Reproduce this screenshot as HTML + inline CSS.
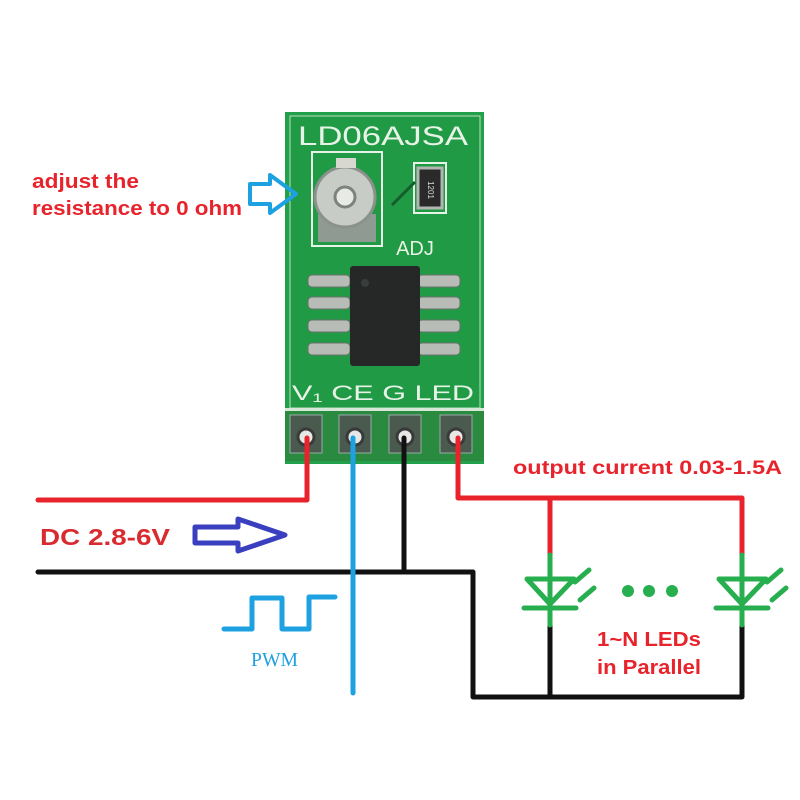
<!DOCTYPE html>
<html><head><meta charset="utf-8"><style>
html,body{margin:0;padding:0;background:#fff;}
svg{display:block;}
</style></head><body>
<svg width="800" height="800" viewBox="0 0 800 800" xmlns="http://www.w3.org/2000/svg">
<rect width="800" height="800" fill="#fff"/>
<!-- board -->
<rect x="285" y="112" width="199" height="352" fill="#23a04a"/>
<rect x="290" y="116" width="190" height="292" fill="#209a44" stroke="#cfe8d0" stroke-width="1" opacity="0.9"/>
<text x="383" y="145" font-family="Liberation Sans, sans-serif" font-size="27" fill="#e8f3e8" text-anchor="middle" textLength="170" lengthAdjust="spacingAndGlyphs">LD06AJSA</text>
<!-- pot -->
<rect x="312" y="152" width="70" height="94" fill="none" stroke="#e8f3e8" stroke-width="2"/>
<rect x="318" y="214" width="58" height="28" fill="#8e9a92"/>
<circle cx="345" cy="197" r="30" fill="#c8ccc6" stroke="#8b918b" stroke-width="3"/>
<circle cx="345" cy="197" r="10" fill="#e8eae6" stroke="#7d837c" stroke-width="3"/>
<rect x="336" y="158" width="20" height="10" fill="#d8d8d0"/>
<!-- resistor -->
<rect x="414" y="163" width="32" height="50" fill="none" stroke="#e8f3e8" stroke-width="2"/>
<rect x="418" y="168" width="24" height="40" fill="#2a2a2a" stroke="#b0b6b0" stroke-width="3"/>
<text x="430" y="192" font-family="Liberation Sans, sans-serif" font-size="8" fill="#ddd" text-anchor="middle" transform="rotate(90 430 190)">1201</text>
<path d="M392 205 L405 192 L415 182" stroke="#155c2a" stroke-width="3" fill="none"/>
<text x="415" y="255" font-family="Liberation Sans, sans-serif" font-size="20" fill="#e8f3e8" text-anchor="middle">ADJ</text>
<!-- IC -->
<g fill="#b8bcb6" stroke="#6c706a" stroke-width="1">
<rect x="308" y="275" width="42" height="12" rx="4"/><rect x="308" y="297" width="42" height="12" rx="4"/>
<rect x="308" y="320" width="42" height="12" rx="4"/><rect x="308" y="343" width="42" height="12" rx="4"/>
<rect x="418" y="275" width="42" height="12" rx="4"/><rect x="418" y="297" width="42" height="12" rx="4"/>
<rect x="418" y="320" width="42" height="12" rx="4"/><rect x="418" y="343" width="42" height="12" rx="4"/>
</g>
<rect x="350" y="266" width="70" height="100" fill="#252826" rx="3"/>
<circle cx="365" cy="283" r="4" fill="#3a3e3b"/>
<!-- labels -->
<text x="383" y="400" font-family="Liberation Sans, sans-serif" font-size="21" fill="#e8f3e8" text-anchor="middle" textLength="182" lengthAdjust="spacingAndGlyphs">V₁ CE  G LED</text>
<!-- header -->
<rect x="285" y="408" width="199" height="3" fill="#d8e8d8"/>
<rect x="285" y="411" width="199" height="50" fill="#2a8a40"/>
<g fill="#4a5a4e" stroke="#9aa" stroke-width="1">
<rect x="290" y="415" width="32" height="38"/><rect x="339" y="415" width="32" height="38"/>
<rect x="389" y="415" width="32" height="38"/><rect x="440" y="415" width="32" height="38"/>
</g>
<g fill="#e6e8e6" stroke="#3a3a3a" stroke-width="3">
<circle cx="306" cy="437" r="8"/><circle cx="355" cy="437" r="8"/><circle cx="405" cy="437" r="8"/><circle cx="456" cy="437" r="8"/>
</g>
<!-- wires -->
<g fill="none" stroke-width="5" stroke-linejoin="round" stroke-linecap="round">
<path d="M38 500 H307 V438" stroke="#e8232b"/>
<path d="M458 438 V498 H742 V555" stroke="#e8232b"/>
<path d="M550 498 V555" stroke="#e8232b"/>
<path d="M38 572 H473 V697 H742 V625" stroke="#111"/>
<path d="M404 438 V572" stroke="#111"/>
<path d="M550 625 V697" stroke="#111"/>
<path d="M353 438 V693" stroke="#1ea1e0"/>
<!-- LEDs -->
<g stroke="#27ae4f" stroke-width="5">
<path d="M550 555 V625"/><path d="M742 555 V625"/>
<path d="M527 579 H574 L550 604 Z" fill="none"/><path d="M524 608 H576"/>
<path d="M719 579 H766 L742 604 Z" fill="none"/><path d="M716 608 H768"/>
<path d="M575 582 L589 570 M580 600 L594 588"/>
<path d="M767 582 L781 570 M772 600 L786 588"/>
</g>
<g fill="#27ae4f"><circle cx="628" cy="591" r="6"/><circle cx="649" cy="591" r="6"/><circle cx="672" cy="591" r="6"/></g>
<!-- PWM -->
<path d="M224 629 H252 V598 H282 V629 H309 V597 H335" stroke="#1ea1e0"/>
<!-- blue arrow -->
<path d="M195 527 H238 V519 L285 535 L238 551 V543 H195 Z" stroke="#3a3fbf" stroke-width="5"/>
<!-- top arrow -->
<path d="M250 184 H270 V175 L296 194 L270 213 V204 H250 Z" stroke="#1ea1e0" stroke-width="4"/>
</g>
<g font-family="Liberation Sans, DejaVu Sans, sans-serif" font-weight="bold" fill="#e8232b">
<text x="32" y="188" font-size="20" textLength="107" lengthAdjust="spacingAndGlyphs">adjust the</text>
<text x="32" y="215" font-size="20" textLength="210" lengthAdjust="spacingAndGlyphs">resistance to 0 ohm</text>
<text x="40" y="545" font-size="23" fill="#d92a30" textLength="130" lengthAdjust="spacingAndGlyphs">DC 2.8-6V</text>
<text x="513" y="474" font-size="19" textLength="269" lengthAdjust="spacingAndGlyphs">output current 0.03-1.5A</text>
<text x="597" y="646" font-size="20" textLength="104" lengthAdjust="spacingAndGlyphs">1~N LEDs</text>
<text x="597" y="674" font-size="20" textLength="104" lengthAdjust="spacingAndGlyphs">in Parallel</text>
</g>
<text x="251" y="666" font-family="Liberation Serif, serif" font-size="20" fill="#1ea1e0" textLength="47" lengthAdjust="spacingAndGlyphs">PWM</text>
</svg>
</body></html>
